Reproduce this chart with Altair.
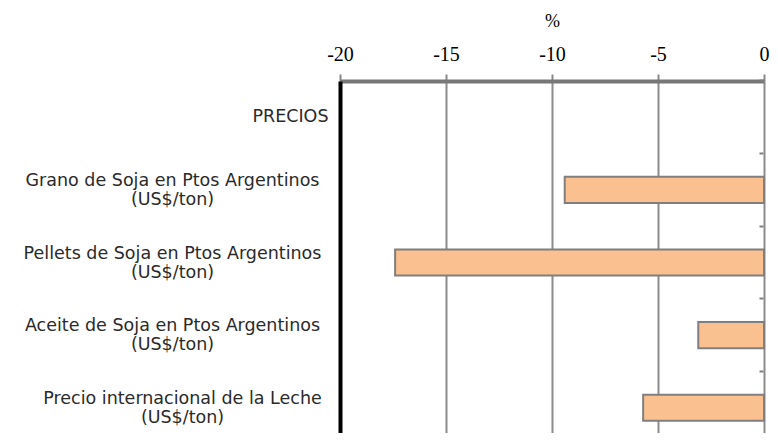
import altair as alt
import pandas as pd

categories = [
    "PRECIOS",
    "Grano de Soja en Ptos Argentinos|(US$/ton)",
    "Pellets de Soja en Ptos Argentinos|(US$/ton)",
    "Aceite de Soja en Ptos Argentinos|(US$/ton)",
    "Precio internacional de la Leche|(US$/ton)",
]
values = [None, -9.4, -17.4, -3.1, -5.7]
x_ticks = [-20, -15, -10, -5, 0]

df = pd.DataFrame({"cat": categories, "val": values})

y_scale = alt.Scale(domain=categories, range=[0, 363], paddingInner=0.64, paddingOuter=0.32)
x_scale = alt.Scale(domain=[-20, 0], nice=False, zero=False)

is_single = "datum.value == 'PRECIOS'"

bars = alt.Chart(df).mark_bar(
    color="#FAC090", stroke="#7F7F7F", strokeWidth=2
).encode(
    x=alt.X(
        "val:Q",
        scale=x_scale,
        axis=alt.Axis(
            orient="top",
            values=x_ticks,
            labelExpr="datum.value + ''",
            title="%",
            titleFont="Liberation Serif",
            titleFontSize=18,
            titleFontWeight="normal",
            titleColor="#000000",
            titlePadding=14,
            labelFont="Liberation Serif",
            labelFontSize=20,
            labelColor="#000000",
            labelPadding=10,
            labelFlush=False,
            domainColor="#777777",
            domainWidth=4,
            tickColor="#888888",
            tickWidth=2,
            tickSize=7,
            grid=True,
            gridColor="#8C8C8C",
            gridWidth=2,
        ),
    ),
    y=alt.Y(
        "cat:N",
        scale=y_scale,
        sort=categories,
        axis=alt.Axis(
            orient="left",
            title=None,
            ticks=False,
            grid=False,
            domainColor="#000000",
            domainWidth=4,
            labelExpr="split(datum.value, '|')",
            labelFont="DejaVu Sans",
            labelFontSize=17.5,
            labelColor="#2A2A2A",
            labelAlign={"condition": {"test": is_single, "value": "right"}, "value": "center"},
            labelPadding={
                "condition": [
                    {"test": is_single, "value": 12},
                    {"test": "indexof(datum.value, 'Leche') >= 0", "value": 158},
                ],
                "value": 168,
            },
            labelOffset={"condition": {"test": is_single, "value": 0}, "value": -9},
            labelBaseline="middle",
            labelLineHeight=19,
            labelLimit=400,
        ),
    ),
)

right_ticks = alt.Chart(df).mark_point(opacity=0).encode(
    y=alt.Y(
        "cat:N",
        scale=y_scale,
        sort=categories,
        axis=alt.Axis(
            orient="right",
            title=None,
            labels=False,
            domain=False,
            grid=False,
            ticks=True,
            bandPosition=-0.889,
            tickColor="#7F7F7F",
            tickWidth=2,
            tickSize=4,
            offset=-5,
        ),
    ),
    x=alt.value(0),
)

chart = alt.layer(bars, right_ticks).resolve_axis(y="independent").properties(
    width=424,
    height=352,
    autosize=alt.AutoSizeParams(type="none"),
    padding={"left": 332, "top": 73, "right": 6, "bottom": 0},
).configure_view(strokeOpacity=0)

chart.save("out.html", embed_options={"renderer": "svg", "actions": False})
